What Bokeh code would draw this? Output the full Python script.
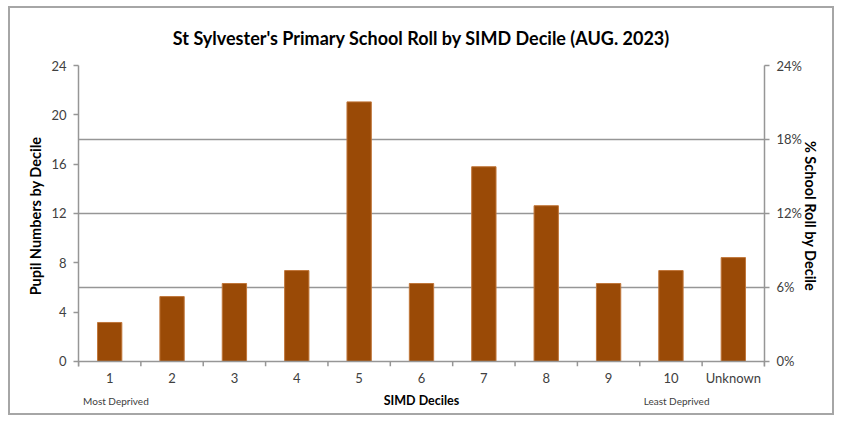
from bokeh.plotting import figure
from bokeh.models import Range1d, LinearAxis, FixedTicker, PrintfTickFormatter, Span
from bokeh.embed import file_html
from bokeh.resources import INLINE

categories = ["1", "2", "3", "4", "5", "6", "7", "8", "9", "10", "Unknown"]
percent_roll = [3.16, 5.26, 6.32, 7.37, 21.05, 6.32, 15.79, 12.63, 6.32, 7.37, 8.42]
left_ticks = [0, 4, 8, 12, 16, 20, 24]
right_ticks = [0, 6, 12, 18, 24]
end_notes = {1.1: "Most Deprived", 10.09: "Least Deprived"}

FONT = "Lato"
GRID = "#969696"
TXT = "#404040"
BAR = "#9a4a06"
Y_TOP = 24
Y_LO = -0.41  # room below zero for the category tick marks

n = len(categories)
xs = list(range(1, n + 1))
bounds = [x - 0.5 for x in xs] + [n + 0.5]

p = figure(width=826, height=409,
           x_range=Range1d(0.5, n + 0.5), y_range=Range1d(Y_LO, Y_TOP),
           output_backend="svg", toolbar_location=None,
           min_border_left=68, min_border_right=72,
           min_border_top=56, min_border_bottom=51,
           x_axis_location=None, y_axis_location=None)
p.styles = {"border": "2px solid #a6a6a6", "margin": "6px 0 0 8px"}
p.outline_line_color = None
p.background_fill_color = "white"

p.title.text = "St Sylvester's Primary School Roll by SIMD Decile (AUG. 2023)"
p.title.align = "center"
p.title.text_font = FONT
p.title.text_font_size = "18px"
p.title.text_font_style = "bold"
p.title.text_color = "black"
p.title.offset = -11
p.title.standoff = 33

p.extra_y_ranges = {"pct": Range1d(Y_LO, Y_TOP)}

ly = LinearAxis(ticker=FixedTicker(ticks=left_ticks))
ly.axis_label = "Pupil Numbers by Decile"
right_axis = LinearAxis(y_range_name="pct", ticker=FixedTicker(ticks=right_ticks),
                        formatter=PrintfTickFormatter(format="%d%%"))
right_axis.axis_label = "% School Roll by Decile"
for ax in (ly, right_axis):
    ax.axis_line_color = GRID
    ax.axis_line_width = 1.5
    ax.major_tick_line_color = GRID
    ax.major_tick_line_width = 1.5
    ax.major_tick_out = 5
    ax.major_tick_in = 0
    ax.minor_tick_line_color = None
    ax.major_label_text_font = FONT
    ax.major_label_text_font_size = "13px"
    ax.major_label_text_color = TXT
    ax.axis_label_text_font = FONT
    ax.axis_label_text_font_size = "14.5px"
    ax.axis_label_text_font_style = "bold"
    ax.axis_label_text_color = "black"
ly.major_label_standoff = 7
ly.axis_label_standoff = 4
right_axis.major_label_standoff = 7
right_axis.axis_label_standoff = -3
p.add_layout(ly, "left")
p.add_layout(right_axis, "right")

# category axis: labels at category centres + axis title
xa = LinearAxis(ticker=FixedTicker(ticks=xs))
xa.major_label_overrides = {x: c for x, c in zip(xs, categories)}
xa.axis_line_color = None
xa.major_tick_line_color = None
xa.minor_tick_line_color = None
xa.major_label_standoff = -3
xa.major_label_text_font = FONT
xa.major_label_text_font_size = "13px"
xa.major_label_text_color = TXT
xa.axis_label = "SIMD Deciles"
xa.axis_label_text_font = FONT
xa.axis_label_text_font_size = "12.5px"
xa.axis_label_text_font_style = "bold"
xa.axis_label_text_color = "black"
xa.axis_label_standoff = 4
p.add_layout(xa, "below")

# end notes on the same row as the axis title
xn = LinearAxis(ticker=FixedTicker(ticks=list(end_notes.keys())))
xn.major_label_overrides = end_notes
xn.axis_line_color = None
xn.major_tick_line_color = None
xn.minor_tick_line_color = None
xn.major_label_standoff = -22
xn.major_label_text_font = FONT
xn.major_label_text_font_size = "10px"
xn.major_label_text_color = TXT
p.add_layout(xn, "below")

p.xgrid.visible = False
p.ygrid.ticker = FixedTicker(ticks=right_ticks[1:])
p.ygrid.grid_line_color = GRID
p.ygrid.grid_line_width = 1.5

# horizontal axis line at zero and tick marks between categories
p.add_layout(Span(location=0, dimension="width", line_color=GRID, line_width=1.5))
p.segment(x0=bounds, y0=[0] * len(bounds), x1=bounds, y1=[Y_LO] * len(bounds),
          line_color=GRID, line_width=1.5)

p.vbar(x=xs, top=percent_roll, width=0.39, fill_color=BAR, line_color="#c0763a", line_width=1)

open("out.html", "w").write(file_html(p, INLINE))
